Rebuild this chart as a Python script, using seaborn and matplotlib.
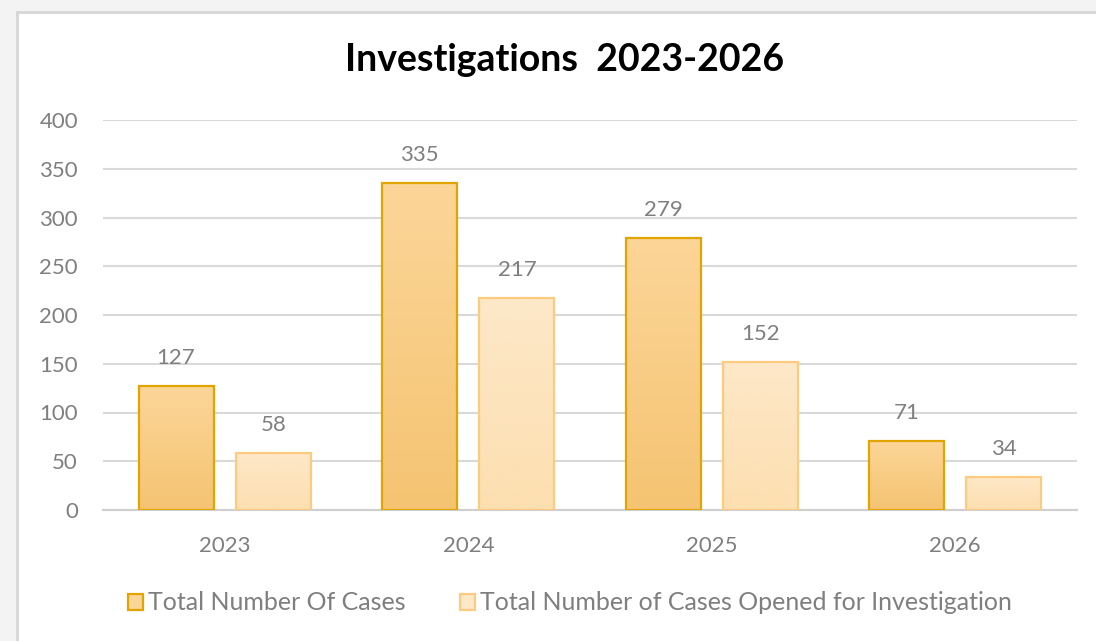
import numpy as np
import pandas as pd
import matplotlib
matplotlib.use("Agg")
import matplotlib.pyplot as plt
from matplotlib.patches import Rectangle, Patch
from matplotlib.lines import Line2D
from matplotlib.colors import LinearSegmentedColormap
import seaborn as sns

# Data
years = ["2023", "2024", "2025", "2026"]
total_cases = [127, 335, 279, 71]
opened_cases = [58, 217, 152, 34]
series_names = ["Total Number Of Cases", "Total Number of Cases Opened for Investigation"]
y_ticks = [0, 50, 100, 150, 200, 250, 300, 350, 400]

df = pd.DataFrame({
    "Year": years * 2,
    "Cases": total_cases + opened_cases,
    "Series": [series_names[0]] * len(years) + [series_names[1]] * len(years),
})

# Styling
grad_top = ["#fcd598", "#fde8c8"]
grad_bottom = ["#f5c472", "#fddfb0"]
edge_cols = ["#e2a500", "#fdcb80"]
text_gray = "#7f7f7f"
grid_gray = "#d9d9d9"

sns.set_theme(style="white")
plt.rcParams["font.family"] = ["Lato", "DejaVu Sans"]

fig = plt.figure(figsize=(10.96, 6.41), dpi=100)
fig.patch.set_facecolor("#f3f3f3")

# White chart panel, with light border lines along its top and left edges
px, py = 17 / 1096, 1 - 12 / 641
panel = Rectangle((px, 0), 1 - px, py, transform=fig.transFigure,
                  facecolor="white", edgecolor="none", zorder=-5)
fig.patches.append(panel)
fig.add_artist(Line2D([px, 1], [py, py], transform=fig.transFigure,
                      color="#d6d6d6", linewidth=2, zorder=-4))
fig.add_artist(Line2D([px, px], [0, py], transform=fig.transFigure,
                      color="#d6d6d6", linewidth=2, zorder=-4))

ax = fig.add_axes([103 / 1096, 1 - 510 / 641, (1077 - 103) / 1096, (510 - 120) / 641])
ax.set_facecolor("none")
ax.set_zorder(2)

sns.barplot(data=df, x="Year", y="Cases", hue="Series", hue_order=series_names,
            order=years, ax=ax, width=0.8, gap=0.23, legend=False,
            palette=grad_top, saturation=1)

# Replace flat fills with vertical gradients, keep coloured outlines
for i, cont in enumerate(ax.containers):
    cmap = LinearSegmentedColormap.from_list(f"g{i}", [grad_bottom[i], grad_top[i]])
    grad = np.linspace(0, 1, 256).reshape(-1, 1)
    for bar in cont.patches:
        x, y = bar.get_x(), bar.get_y()
        w, h = bar.get_width(), bar.get_height()
        ax.imshow(grad, cmap=cmap, origin="lower", aspect="auto",
                  extent=[x, x + w, y, y + h], zorder=2, interpolation="bilinear")
        bar.set_facecolor("none")
        bar.set_edgecolor(edge_cols[i])
        bar.set_linewidth(1.6)
        bar.set_zorder(3)
    ax.bar_label(cont, padding=13, color=text_gray, fontsize=16)

ax.set_xlim(-0.5, 3.5)
ax.set_ylim(0, 400)
ax.set_yticks(y_ticks)
ax.set_xlabel("")
ax.set_ylabel("")
ax.yaxis.grid(True, color=grid_gray, linewidth=1.5)
ax.set_axisbelow(True)
for s in ["top", "right", "left"]:
    ax.spines[s].set_visible(False)
ax.spines["bottom"].set_color("#cfcfcf")
ax.spines["bottom"].set_linewidth(1.5)
ax.tick_params(axis="both", length=0, labelsize=16, labelcolor=text_gray)
ax.tick_params(axis="y", pad=18)
ax.tick_params(axis="x", pad=19)

fig.text(565 / 1096, 1 - 60 / 641, "Investigations  2023-2026", ha="center", va="center",
         fontsize=27, fontweight="bold", color="black")

handles = [Patch(facecolor=grad_top[i], edgecolor=edge_cols[i], linewidth=1.6) for i in range(2)]
fig.legend(handles, series_names, loc="center", bbox_to_anchor=(570 / 1096, 1 - 603 / 641),
           ncol=2, frameon=False, fontsize=18, labelcolor=text_gray,
           handlelength=0.6, handleheight=0.6, handletextpad=0.2, columnspacing=2.2)

fig.savefig("out.png", dpi=100, facecolor=fig.get_facecolor())
